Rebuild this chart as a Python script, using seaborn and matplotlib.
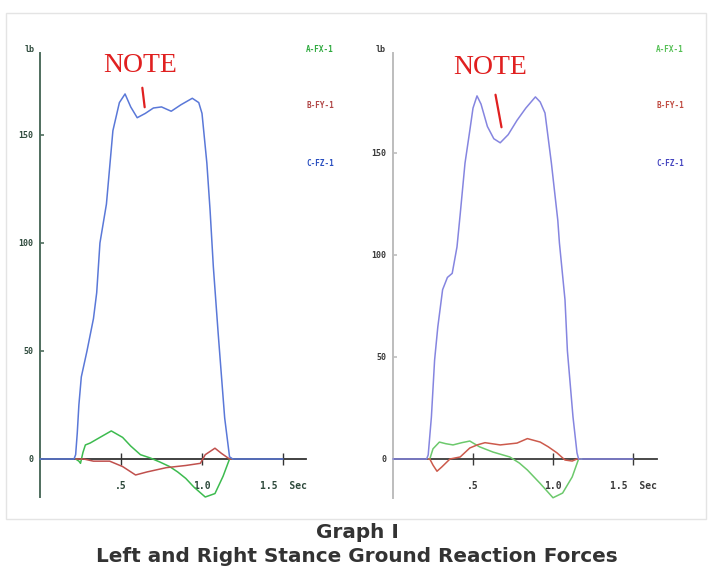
import matplotlib
matplotlib.use("Agg")
import matplotlib.pyplot as plt
import seaborn as sns
import pandas as pd
from matplotlib.patches import Rectangle

# ---------------- data ----------------
# Left stance
left_fz_t = [0.0, 0.21, 0.22, 0.23, 0.24, 0.255, 0.29, 0.33, 0.35, 0.37, 0.41, 0.45, 0.49, 0.525, 0.56,
             0.60, 0.65, 0.70, 0.75, 0.81, 0.87, 0.94, 0.98, 1.00, 1.03, 1.05, 1.07, 1.10, 1.14,
             1.17, 1.19, 1.50]
left_fz = [0, 0, 2, 12, 25, 38, 50, 65, 77, 100, 118, 152, 165, 169, 163,
           158, 160, 162.5, 163, 161, 164, 167, 165, 160, 137, 115, 89, 58, 19,
           1, 0, 0]
left_fx_t = [0.22, 0.24, 0.25, 0.265, 0.28, 0.31, 0.37, 0.44, 0.51, 0.56, 0.62, 0.68, 0.74, 0.80,
             0.85, 0.90, 0.95, 1.02, 1.08, 1.13, 1.17, 1.19]
left_fx = [0, -1, -2, 3, 6.5, 7.4, 10, 13, 10, 6, 2, 0.5, -1.4, -3.5,
           -6, -9, -13, -17.6, -16, -8, 0, 0]
left_fy_t = [0.22, 0.27, 0.33, 0.43, 0.51, 0.59, 0.66, 0.72, 0.78, 0.90, 0.99, 1.02, 1.08, 1.12,
             1.17, 1.19]
left_fy = [0, 0, -1, -1, -3.5, -7.4, -6, -5, -4, -3, -2, 2, 5, 2.6, 0, 0]

# Right stance
right_fz_t = [0.0, 0.21, 0.22, 0.24, 0.26, 0.28, 0.31, 0.34, 0.37, 0.40, 0.42, 0.45, 0.48, 0.50,
              0.525, 0.55, 0.59, 0.63, 0.67, 0.72, 0.775, 0.83, 0.89, 0.92, 0.95, 0.99, 1.03,
              1.04, 1.075, 1.09, 1.125, 1.15, 1.16, 1.50]
right_fz = [0, 0, 2, 20.6, 48.5, 64.7, 83, 89, 91, 104, 120, 145, 161, 172,
            178, 174, 163, 157, 155, 159, 166, 172, 177.5, 175, 169.6, 145, 117,
            106, 78, 53, 20.6, 3, 0, 0]
right_fx_t = [0.22, 0.23, 0.25, 0.29, 0.33, 0.375, 0.43, 0.48, 0.54, 0.625, 0.73, 0.79, 0.84,
              0.92, 1.0, 1.06, 1.12, 1.16, 1.18]
right_fx = [0, 0, 5, 8.3, 7.5, 6.9, 8, 8.8, 6, 3.4, 1, -2, -5.4,
            -12, -19, -16.7, -8.8, 0, 0]
right_fy_t = [0.22, 0.23, 0.25, 0.275, 0.305, 0.356, 0.42, 0.48, 0.53, 0.575, 0.67, 0.775, 0.84,
              0.92, 0.97, 1.025, 1.075, 1.12, 1.15, 1.17]
right_fy = [0, 0, -3, -6, -3.9, 0, 1, 5.4, 7, 8, 6.9, 7.8, 10,
            8.3, 6, 3, -0.5, -1, 0, 0]

series_names = ["A-FX-1", "B-FY-1", "C-FZ-1"]
y_ticks = [0, 50, 100, 150]
y_tick_labels = ["0", "50", "100", "150"]
x_ticks = [0.5, 1.0, 1.5]
x_tick_labels = [".5", "1.0", "1.5  Sec"]
unit_label = "lb"
note_text = "NOTE"
caption_1 = "Graph I"
caption_2 = "Left and Right Stance Ground Reaction Forces"


def make_df(fx_t, fx, fy_t, fy, fz_t, fz):
    parts = []
    for name, t, v in zip(series_names, [fx_t, fy_t, fz_t], [fx, fy, fz]):
        parts.append(pd.DataFrame({"t": t, "force": v, "series": name}))
    return pd.concat(parts, ignore_index=True)


df_left = make_df(left_fx_t, left_fx, left_fy_t, left_fy, left_fz_t, left_fz)
df_right = make_df(right_fx_t, right_fx, right_fy_t, right_fy, right_fz_t, right_fz)

# ---------------- figure ----------------
sns.set_style("white")
W, H = 718, 586
fig = plt.figure(figsize=(W / 100, H / 100), dpi=100)
fig.patch.set_facecolor("white")

# faint frame of the scanned image
fig.patches.append(Rectangle((6 / W, 1 - 519 / H), 700 / W, 506 / H, transform=fig.transFigure,
                             fill=False, edgecolor="#e4e4e4", linewidth=1.0))


def px_axes(x0, x1, y0, y1):
    return fig.add_axes([x0 / W, 1 - y1 / H, (x1 - x0) / W, (y1 - y0) / H])


panels = [
    dict(df=df_left, box=(20, 340, 40, 505), x0=40, sx=162, y0=459, sy=2.16,
         palette={"A-FX-1": "#3dbb4f", "B-FY-1": "#c0504d", "C-FZ-1": "#5a78d8"},
         axis_col="#4f6e5e", zero_col="#333333", ybounds=(-17.5, 188), xend=1.64,
         lab_col="#2e4a3c", leg_x=320, lb_x=25,
         leg_cols=["#2faa3f", "#b04545", "#2a4fc0"],
         note=(140, 66), arrow=((142, 85), (145, 110))),
    dict(df=df_right, box=(373, 700, 40, 505), x0=393, sx=160, y0=459, sy=2.04,
         palette={"A-FX-1": "#6cc96c", "B-FY-1": "#cc5a4c", "C-FZ-1": "#8585e0"},
         axis_col="#bdbdbd", zero_col="#3a3a3a", ybounds=(-19, 199), xend=1.65,
         lab_col="#3a3a3a", leg_x=670, lb_x=376,
         leg_cols=["#55c055", "#c04a40", "#4646c0"],
         note=(490, 68), arrow=((495, 92), (502, 130))),
]

for p in panels:
    bx0, bx1, by0, by1 = p["box"]
    ax = px_axes(bx0, bx1, by0, by1)
    ax.set_facecolor("none")
    ax.set_xlim((bx0 - p["x0"]) / p["sx"], (bx1 - p["x0"]) / p["sx"])
    ax.set_ylim((p["y0"] - by1) / p["sy"], (p["y0"] - by0) / p["sy"])

    sns.lineplot(data=p["df"], x="t", y="force", hue="series", palette=p["palette"],
                 hue_order=series_names, estimator=None, sort=False, legend=False,
                 linewidth=1.1, ax=ax, zorder=3)

    for s in ["top", "right"]:
        ax.spines[s].set_visible(False)
    ax.spines["left"].set_position(("data", 0))
    ax.spines["left"].set_bounds(*p["ybounds"])
    ax.spines["left"].set_color(p["axis_col"])
    ax.spines["left"].set_linewidth(1.4)
    ax.spines["bottom"].set_position(("data", 0))
    ax.spines["bottom"].set_bounds(0, p["xend"])
    ax.spines["bottom"].set_color(p["zero_col"])
    ax.spines["bottom"].set_linewidth(1.3)
    ax.spines["bottom"].set_zorder(2)

    ax.set_xticks(x_ticks)
    ax.set_xticklabels(x_tick_labels)
    ax.set_yticks(y_ticks)
    ax.set_yticklabels(y_tick_labels)
    ax.tick_params(axis="x", bottom=True, direction="inout", length=8, width=1.0,
                   color=p["zero_col"], pad=12, labelsize=7, labelcolor=p["lab_col"])
    ax.tick_params(axis="y", left=True, direction="in", length=3, width=1.2,
                   color=p["axis_col"], pad=5, labelsize=6, labelcolor=p["lab_col"])
    for lab in ax.get_xticklabels() + ax.get_yticklabels():
        lab.set_fontweight("bold")
        lab.set_family("DejaVu Sans Mono")
    ax.set_xlabel("")
    ax.set_ylabel("")

    # unit label
    fig.text(p["lb_x"] / W, 1 - 49 / H, unit_label, fontsize=6, fontweight="bold",
             color=p["lab_col"], ha="left", va="center", family="DejaVu Sans Mono")

    # channel labels
    for name, yy, c in zip(series_names, [50, 106, 163], p["leg_cols"]):
        fig.text(p["leg_x"] / W, 1 - yy / H, name, fontsize=5.5, fontweight="bold",
                 color=c, ha="center", va="center", family="DejaVu Sans Mono")

    # NOTE annotation
    fig.text(p["note"][0] / W, 1 - p["note"][1] / H, note_text, fontsize=20,
             color="#e02020", ha="center", va="center", family="Liberation Serif")
    (ax0, ay0), (ax1, ay1) = p["arrow"]
    ax.annotate("", xy=((ax1 - p["x0"]) / p["sx"], (p["y0"] - ay1) / p["sy"]),
                xytext=((ax0 - p["x0"]) / p["sx"], (p["y0"] - ay0) / p["sy"]),
                arrowprops=dict(arrowstyle="-", color="#e02020", lw=1.6))

fig.text(357 / W, 1 - 533 / H, caption_1, fontsize=14.4, fontweight="bold", color="#333333",
         ha="center", va="center", family="DejaVu Sans")
fig.text(357 / W, 1 - 557 / H, caption_2, fontsize=14.4, fontweight="bold", color="#333333",
         ha="center", va="center", family="DejaVu Sans")

fig.savefig("out.png", dpi=100, facecolor="white")
